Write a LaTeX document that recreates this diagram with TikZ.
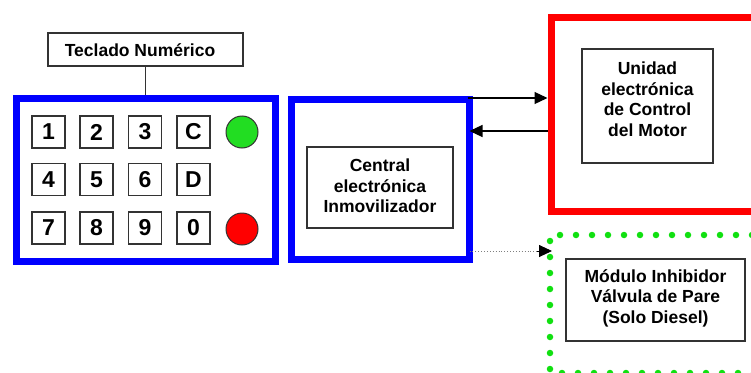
\documentclass[tikz,border=0pt]{standalone}
\usepackage{fontspec}
\setmainfont{Liberation Sans}
\usetikzlibrary{arrows.meta}
\definecolor{bblue}{HTML}{0000FF}
\definecolor{rred}{HTML}{FF0000}
\definecolor{dgreen}{HTML}{11E011}
\definecolor{cgreen}{HTML}{22DD22}
\definecolor{edge}{HTML}{333333}
\tikzset{
  inbox/.style={draw=edge, line width=1.2pt, fill=white},
  txt/.style={font=\fontsize{17.5}{20.5}\selectfont\bfseries, align=center, inner sep=0pt},
  key/.style={draw=edge, line width=1.2pt, minimum width=33pt, minimum height=32pt, inner sep=0pt, font=\fontsize{23}{23}\selectfont\bfseries},
  lamp/.style={circle, draw=edge, line width=1pt, minimum size=32pt, inner sep=0pt},
  tip/.style={-{Triangle[length=13pt,width=12pt]}},
  arr/.style={line width=1.2pt, tip},
}
\begin{document}
\begin{tikzpicture}[x=1pt,y=-1pt]
\useasboundingbox (0,0) rectangle (751,372);
\clip (0,0) rectangle (751,372);
% keypad frame
\node[draw=bblue, line width=7pt, minimum width=259pt, minimum height=163pt] (keypad) at (145.5,179.5) {};
\node[inbox, minimum width=195pt, minimum height=33pt] (lblbox) at (145.5,49.5) {};
\node[txt] (lbl) at (140,50) {Teclado Numérico};
\draw[edge, line width=1.2pt] (lblbox.south) -- (keypad.north);
% keys
\node[key] (k1) at (48.5,132) {1};
\node[key] (k2) at (96.5,132) {2};
\node[key] (k3) at (145,132) {3};
\node[key] (kC) at (193.5,132) {C};
\node[key] (k4) at (48.5,179.5) {4};
\node[key] (k5) at (96.5,179.5) {5};
\node[key] (k6) at (145,179.5) {6};
\node[key] (kD) at (193.5,179.5) {D};
\node[key] (k7) at (48.5,228) {7};
\node[key] (k8) at (96.5,228) {8};
\node[key] (k9) at (145,228) {9};
\node[key] (k0) at (193.5,228) {0};
\node[lamp, fill=cgreen] (lg) at (242,132) {};
\node[lamp, fill=rred] (lr) at (242,229) {};
% central
\node[draw=bblue, line width=7pt, minimum width=178pt, minimum height=160pt] (central) at (380,179) {};
\node[inbox, minimum width=146pt, minimum height=81pt] (centralbox) at (380,187.5) {};
\node[txt] (centraltxt) at (380,186) {Central\\electrónica\\Inmovilizador};
% ECU
\node[draw=rred, line width=7pt, minimum width=249pt, minimum height=194pt] (ecu) at (675.5,114) {};
\node[inbox, minimum width=131pt, minimum height=114pt] (ecubox) at (647.5,106) {};
\node[txt] (ecutxt) at (647.5,99) {Unidad\\electrónica\\de Control\\del Motor};
% Module
\draw[dgreen, line width=6.5pt, line cap=round, dash pattern=on 0pt off 16pt] (800,235) -- (550,235) -- (550,373) -- (800,373);
\coordinate (modw) at (550,251);
\node[inbox, minimum width=179pt, minimum height=82pt] (modbox) at (655.5,300) {};
\node[txt] (modtxt) at (655.5,298) {Módulo Inhibidor\\Válvula de Pare\\(Solo Diesel)};
% arrows
\coordinate (y1) at (0,98);
\coordinate (y2) at (0,131);
\coordinate (y3) at (0,251);
\draw[arr] ([xshift=-5pt]central.east |- y1) -- (ecu.west |- y1);
\draw[arr] (ecu.west |- y2) -- ([xshift=-3pt]central.east |- y2);
\draw[line width=0.9pt, gray, dotted] ([xshift=-3pt]central.east |- y3) -- ([xshift=-12pt]modw);
\draw[line width=0.9pt, tip] ([xshift=-13pt]modw) -- ([xshift=2pt]modw);
\end{tikzpicture}
\end{document}
